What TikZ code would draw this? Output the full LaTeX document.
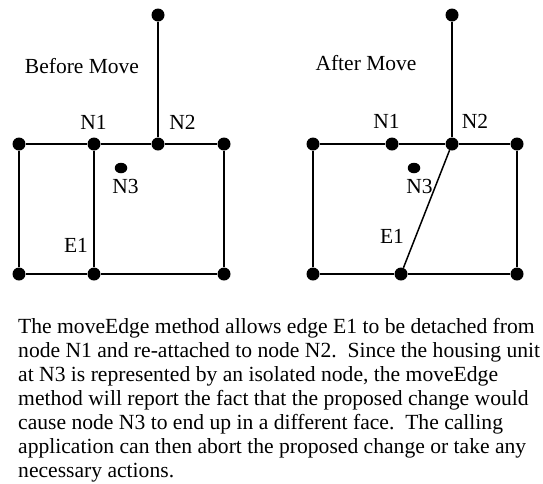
\documentclass[tikz,border=0pt]{standalone}
\usepackage{fontspec}
\setmainfont{Liberation Serif}
\usetikzlibrary{shapes.geometric}
\tikzset{
  dot/.style={circle,fill=black,inner sep=0pt,minimum size=13pt},
  sdot/.style={ellipse,fill=black,inner sep=0pt,minimum width=12.5pt,minimum height=10.5pt},
  lbl/.style={anchor=base,inner sep=0pt,font=\fontsize{21.5}{24}\selectfont},
  txt/.style={anchor=base west,inner sep=0pt,font=\fontsize{21.6}{24}\selectfont},
  edge/.style={line width=1.5pt,black}
}
\begin{document}
\begin{tikzpicture}[x=1pt,y=-1pt]
\useasboundingbox[fill=white] (0,0) rectangle (543,483);
% Before
\node[dot] (lt) at (158,15) {};
\node[dot] (ltl) at (19,144) {};
\node[dot] (ln1) at (94,144) {};
\node[dot] (ln2) at (158,144) {};
\node[dot] (ltr) at (224,144) {};
\node[dot] (lbl) at (19,274) {};
\node[dot] (lbm) at (94,274) {};
\node[dot] (lbr) at (224,274) {};
\node[sdot] (ln3) at (121,168) {};
\draw[edge] (lt) -- (ln2);
\draw[edge] (ltl) -- (ln1) -- (ln2) -- (ltr) -- (lbr) -- (lbm) -- (lbl) -- (ltl);
\draw[edge] (ln1) -- (lbm);
\node[lbl] (lhead) at (82,73) {Before Move};
\node[lbl] (lN1) at (93.5,129) {N1};
\node[lbl] (lN2) at (182.5,129) {N2};
\node[lbl] (lN3) at (125.5,193) {N3};
\node[lbl] (lE1) at (76,252) {E1};
% After
\node[dot] (rt) at (452,15) {};
\node[dot] (rtl) at (313,144) {};
\node[dot] (rn1) at (392,144) {};
\node[dot] (rn2) at (452,144) {};
\node[dot] (rtr) at (517,144) {};
\node[dot] (rbl) at (313,274) {};
\node[dot] (rbm) at (401,274) {};
\node[dot] (rbr) at (517,274) {};
\node[sdot] (rn3) at (414,168) {};
\draw[edge] (rt) -- (rn2);
\draw[edge] (rtl) -- (rn1) -- (rn2) -- (rtr) -- (rbr) -- (rbm) -- (rbl) -- (rtl);
\draw[edge] (rn2) -- (rbm);
\node[lbl] (rhead) at (366,70) {After Move};
\node[lbl] (rN1) at (386.5,128) {N1};
\node[lbl] (rN2) at (475,128) {N2};
\node[lbl] (rN3) at (419.5,193) {N3};
\node[lbl] (rE1) at (392,243) {E1};
% Caption
\node[txt] (t1) at (18,333) {The moveEdge method allows edge E1 to be detached from};
\node[txt] (t2) at (18,357) {node N1 and re-attached to node N2.\ \ Since the housing unit};
\node[txt] (t3) at (18,381) {at N3 is represented by an isolated node, the moveEdge};
\node[txt] (t4) at (18,405) {method will report the fact that the proposed change would};
\node[txt] (t5) at (18,429) {cause node N3 to end up in a different face.\ \ The calling};
\node[txt] (t6) at (18,453) {application can then abort the proposed change or take any};
\node[txt] (t7) at (18,477) {necessary actions.};
\end{tikzpicture}
\end{document}
